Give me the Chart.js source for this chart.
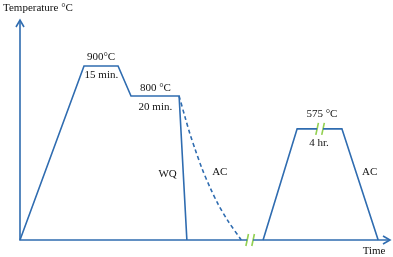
<!DOCTYPE html>
<html lang="en">
<head>
  <meta charset="UTF-8">
  <title>Heat treatment cycle</title>
  <script src="https://cdn.jsdelivr.net/npm/chart.js"></script>
  <style>
    body {
      margin: 0;
      background-color: #ffffff;
    }

    .wrap {
      width: 393px;
      height: 257px;
    }
  </style>
</head>
<body>
  <div class="wrap"><canvas id="chart"></canvas></div>

  <script>
    // time in arbitrary units, temperature in °C (schematic)
    const axisTop = 1138;
    const axisEnd = 100;

    const hardenTime = [0, 17.3, 26.5, 30, 43, 45.1];
    const hardenTemp = [0, 900, 900, 745, 745, 0];

    const airCoolTime = [43, 44.6, 45.9, 47.3, 49.2, 51.4, 53.5, 56.2, 59.8];
    const airCoolTemp = [745, 636, 551, 471, 369, 270, 187, 99, 0];

    const temperTime = [65.7, 74.9, 80.3, 81.9, 87, 96.8];
    const temperTemp = [0, 575, 575, 575, 575, 0];

    // x positions of the "//" breaks, paired (left, right) with their level
    const breakTime = [61.4, 63, 80.3, 81.9];
    const breakTemp = [0, 0, 575, 575];

    const notes = [
      { text: "900°C", x: 21.9, y: 947 },
      { text: "15 min.", x: 22, y: 853 },
      { text: "800 °C", x: 36.6, y: 786 },
      { text: "20 min.", x: 36.6, y: 688 },
      { text: "WQ", x: 39.9, y: 341 },
      { text: "AC", x: 54, y: 352 },
      { text: "575 °C", x: 81.6, y: 652 },
      { text: "4 hr.", x: 80.8, y: 502 },
      { text: "AC", x: 94.5, y: 352 },
      { text: "Time", x: 95.7, y: -57 }
    ];

    const blue = "#2f6cb0";
    const green = "#92d050";

    function pts(xs, ys) {
      return xs.map((x, i) => ({ x: x, y: ys[i] }));
    }

    // blue line gets a gap between each pair of break marks
    const temperPts = pts(temperTime, temperTemp);
    temperPts.splice(3, 0, { x: 81.1, y: null });

    const axisPts = [
      { x: 0, y: axisTop }, { x: 0, y: 0 }, { x: breakTime[0], y: 0 },
      { x: 62.2, y: null },
      { x: breakTime[1], y: 0 }, { x: axisEnd, y: 0 }
    ];

    const breakSets = breakTime.map((x, i) => ({
      data: [{ x: x - 0.35, y: breakTemp[i] - 31 }, { x: x + 0.35, y: breakTemp[i] + 31 }],
      borderColor: green,
      borderWidth: 1.6,
      pointRadius: 0,
      clip: false
    }));

    const line = (data, extra) => Object.assign({
      data: data,
      borderColor: blue,
      borderWidth: 1.6,
      pointRadius: 0,
      fill: false,
      spanGaps: false,
      clip: false
    }, extra || {});

    const labelsPlugin = {
      id: "labels",
      afterDatasetsDraw(chart) {
        const ctx = chart.ctx;
        const xs = chart.scales.x;
        const ys = chart.scales.y;
        ctx.save();

        // arrow heads
        ctx.strokeStyle = blue;
        ctx.lineWidth = 1.6;
        const tx = xs.getPixelForValue(0), ty = ys.getPixelForValue(axisTop);
        ctx.beginPath();
        ctx.moveTo(tx - 4, ty + 7); ctx.lineTo(tx, ty); ctx.lineTo(tx + 4, ty + 7);
        ctx.stroke();
        const rx = xs.getPixelForValue(axisEnd), ry = ys.getPixelForValue(0);
        ctx.beginPath();
        ctx.moveTo(rx - 7, ry - 4); ctx.lineTo(rx, ry); ctx.lineTo(rx - 7, ry + 4);
        ctx.stroke();

        ctx.fillStyle = "#111";
        ctx.font = "11px 'Liberation Serif'";
        ctx.textAlign = "center";
        ctx.textBaseline = "middle";
        notes.forEach(n => {
          ctx.fillText(n.text, xs.getPixelForValue(n.x), ys.getPixelForValue(n.y));
        });
        ctx.textAlign = "left";
        ctx.fillText("Temperature °C", 3, 8);
        ctx.restore();
      }
    };

    new Chart(document.getElementById("chart"), {
      type: "line",
      data: {
        datasets: [
          line(axisPts),
          line(pts(hardenTime, hardenTemp)),
          line(pts(airCoolTime, airCoolTemp), { borderDash: [4, 3], tension: 0.3 }),
          line(temperPts),
          ...breakSets
        ]
      },
      options: {
        responsive: true,
        maintainAspectRatio: false,
        animation: false,
        layout: { padding: { left: 20, top: 20, right: 3, bottom: 17 } },
        plugins: { legend: { display: false }, tooltip: { enabled: false } },
        scales: {
          x: { type: "linear", min: 0, max: axisEnd, display: false },
          y: { type: "linear", min: 0, max: axisTop, display: false }
        }
      },
      plugins: [labelsPlugin]
    });
  </script>
</body>
</html>
